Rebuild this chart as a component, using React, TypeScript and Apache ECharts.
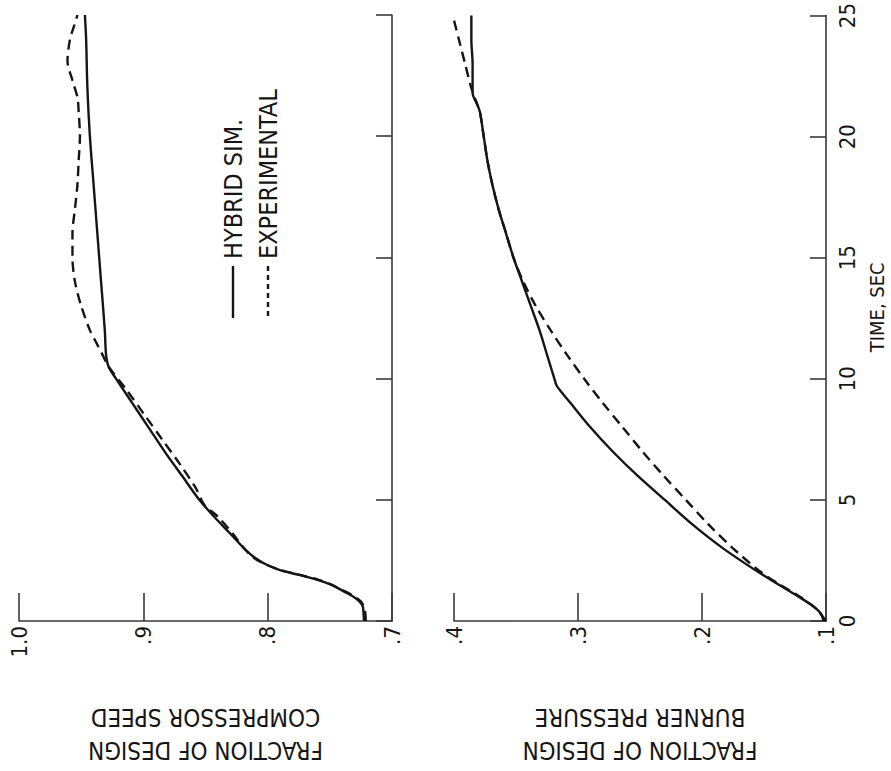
import React, { useEffect, useRef } from "react";
import * as echarts from "echarts";

// Time (s) for each sample point
const compSimTime = [0, 0.4, 0.6, 0.8, 1.0, 1.2, 1.5, 1.7, 1.9, 2.1, 2.3, 2.6, 3.0, 3.6, 4.3, 5, 6, 7, 8, 9, 10, 10.5, 11, 12, 14, 16, 18, 20, 22, 24, 25];
const compSimValue = [0.7225, 0.723, 0.7235, 0.726, 0.731, 0.738, 0.749, 0.760, 0.775, 0.790, 0.800, 0.810, 0.819, 0.830, 0.843, 0.855, 0.869, 0.883, 0.896, 0.909, 0.922, 0.928, 0.930, 0.931, 0.934, 0.937, 0.940, 0.943, 0.945, 0.946, 0.947];

const compExpTime = [0, 0.5, 0.8, 1.0, 1.2, 1.5, 1.7, 1.9, 2.1, 2.3, 2.6, 3.0, 3.6, 4.3, 4.8, 5.5, 6.5, 7.5, 8.5, 9.5, 10.5, 11, 11.5, 12, 13, 14, 15, 16, 17, 18, 19, 20, 21, 21.6, 22.3, 23.1, 24, 24.5, 25];
const compExpValue = [0.721, 0.722, 0.725, 0.730, 0.737, 0.749, 0.759, 0.774, 0.789, 0.800, 0.811, 0.819, 0.828, 0.840, 0.851, 0.858, 0.871, 0.885, 0.899, 0.913, 0.928, 0.933, 0.938, 0.943, 0.950, 0.955, 0.957, 0.957, 0.955, 0.953, 0.952, 0.951, 0.952, 0.953, 0.957, 0.961, 0.959, 0.956, 0.953];

const burnSimTime = [0, 0.3, 0.6, 1, 1.5, 2, 3, 4, 5, 6, 7, 8, 9, 9.7, 10, 11, 12, 13, 14, 15, 16, 17, 18, 19, 20, 21, 21.3, 21.8, 23, 24, 25];
const burnSimValue = [0.102, 0.104, 0.110, 0.122, 0.138, 0.154, 0.183, 0.208, 0.230, 0.252, 0.272, 0.290, 0.306, 0.317, 0.319, 0.325, 0.331, 0.338, 0.345, 0.352, 0.358, 0.364, 0.369, 0.373, 0.376, 0.379, 0.381, 0.385, 0.385, 0.386, 0.386];

const burnExpTime = [0, 0.5, 1, 1.5, 2, 3, 4, 5, 6, 7, 8, 9, 10, 11, 12, 13, 14, 15, 16, 17, 18, 19, 20, 21, 21.3, 22, 23, 24, 25];
const burnExpValue = [0.100, 0.108, 0.121, 0.137, 0.152, 0.175, 0.195, 0.213, 0.231, 0.248, 0.264, 0.280, 0.295, 0.309, 0.322, 0.334, 0.344, 0.352, 0.358, 0.364, 0.369, 0.373, 0.376, 0.379, 0.381, 0.386, 0.391, 0.396, 0.401];

const timeTicks = [0, 5, 10, 15, 20, 25];
const compTicks = [0.7, 0.8, 0.9, 1.0];
const burnTicks = [0.1, 0.2, 0.3, 0.4];

const seriesNames = ["HYBRID SIM.", "EXPERIMENTAL"];
const timeAxisName = "TIME, SEC";
const compAxisName = "FRACTION OF DESIGN\nCOMPRESSOR SPEED";
const burnAxisName = "FRACTION OF DESIGN\nBURNER PRESSURE";

const FONT = "'Liberation Sans Narrow', 'DejaVu Sans Condensed', 'Roboto Condensed', sans-serif";
const INK = "#151515";
const AXIS = "#3a3a3a";

const pairs = (t: number[], v: number[]) => t.map((tt, i) => [v[i], tt]);
const fracLabel = (v: number) => (v >= 0.999 ? "1.0" : "." + Math.round(v * 10));

export default function App() {
  const ref = useRef<HTMLDivElement>(null);
  useEffect(() => {
    if (!ref.current) return;
    const chart = echarts.init(ref.current, null, { renderer: "svg" });

    const valueAxis = (grid: number, ticks: number[], name: string) => ({
      type: "value",
      gridIndex: grid,
      min: ticks[0],
      max: ticks[ticks.length - 1],
      interval: 0.1,
      inverse: true,
      position: "bottom",
      splitLine: { show: false },
      axisLine: { show: true, lineStyle: { color: AXIS, width: 1.6 } },
      axisTick: { show: true, inside: true, length: 28, lineStyle: { color: AXIS, width: 1.6 } },
      axisLabel: {
        rotate: 90,
        margin: 5,
        fontSize: 22,
        fontFamily: FONT,
        color: INK,
        formatter: fracLabel,
      },
      name,
      nameLocation: "middle",
      nameRotate: 180,
      nameGap: 79,
      nameTextStyle: { fontSize: 24, fontFamily: FONT, color: INK, lineHeight: 33 },
    });

    const timeAxis = (grid: number, showLabels: boolean) => ({
      type: "value",
      gridIndex: grid,
      min: timeTicks[0],
      max: timeTicks[timeTicks.length - 1],
      interval: 5,
      position: "right",
      splitLine: { show: false },
      axisLine: { show: true, lineStyle: { color: AXIS, width: 1.6 } },
      axisTick: { show: true, inside: true, length: 16, lineStyle: { color: AXIS, width: 1.6 } },
      axisLabel: {
        show: showLabels,
        rotate: 90,
        margin: 10,
        fontSize: 22,
        fontFamily: FONT,
        color: INK,
      },
      name: showLabels ? timeAxisName : "",
      nameLocation: "middle",
      nameRotate: 90,
      nameGap: 41,
      nameTextStyle: { fontSize: 20, fontFamily: FONT, color: INK, padding: [0, 0, 0, 22] },
    });

    const lineSeries = (name: string, x: number, data: number[][], dashed: boolean) => ({
      type: "line",
      name,
      xAxisIndex: x,
      yAxisIndex: x,
      data,
      showSymbol: false,
      smooth: 0.3,
      lineStyle: { color: INK, width: 2.4, type: dashed ? [10, 6] : "solid" },
    });

    const legendItem = (x: number, label: string, dashed: boolean) => ({
      type: "group",
      children: [
        {
          type: "line",
          shape: { x1: x, y1: 266, x2: x, y2: 318 },
          style: { stroke: INK, lineWidth: 2.4, lineDash: dashed ? [5, 4] : null },
        },
        {
          type: "text",
          x: x,
          y: 259,
          rotation: Math.PI / 2,
          style: {
            text: label,
            fontSize: 25,
            fontFamily: FONT,
            fill: INK,
            align: "left",
            verticalAlign: "middle",
          },
        },
      ],
    });

    chart.setOption({
      animation: false,
      backgroundColor: "#ffffff",
      grid: [
        { left: 19, right: 891 - 392, top: 15, bottom: 771 - 632, containLabel: false },
        { left: 454, right: 891 - 826, top: 15, bottom: 771 - 632, containLabel: false },
      ],
      xAxis: [valueAxis(0, compTicks, compAxisName), valueAxis(1, burnTicks, burnAxisName)],
      yAxis: [timeAxis(0, false), timeAxis(1, true)],
      series: [
        lineSeries(seriesNames[0], 0, pairs(compSimTime, compSimValue), false),
        lineSeries(seriesNames[1], 0, pairs(compExpTime, compExpValue), true),
        lineSeries(seriesNames[0], 1, pairs(burnSimTime, burnSimValue), false),
        lineSeries(seriesNames[1], 1, pairs(burnExpTime, burnExpValue), true),
      ],
      graphic: [legendItem(233, seriesNames[0], false), legendItem(268, seriesNames[1], true)],
    });
    return () => chart.dispose();
  }, []);

  return (
    <div
      ref={ref}
      style={{ position: "absolute", left: 0, top: 0, width: 891, height: 771, background: "#fff" }}
    />
  );
}
